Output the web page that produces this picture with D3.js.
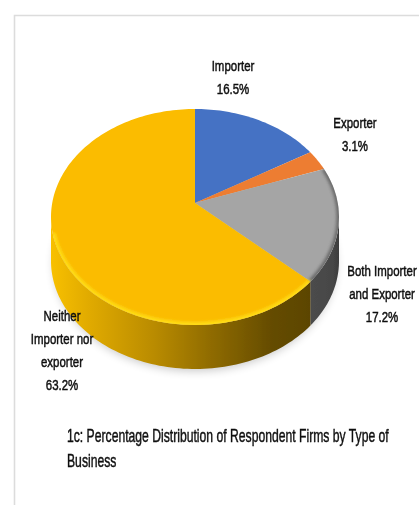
<!DOCTYPE html>
<html><head><meta charset="utf-8">
<style>html,body{margin:0;padding:0;background:#fff}svg{display:block}</style>
<script src="https://cdn.jsdelivr.net/npm/d3@7"></script></head>
<body><svg id="c" width="419" height="505"></svg>
<script>
const categories=["Importer","Exporter","Both Importer and Exporter","Neither Importer nor exporter"];
const values=[16.5,3.1,17.2,63.2];
const colors=["#4472c4","#ed7d31","#a5a5a5","#fbbc00"];
const labelLines=[["Importer","16.5%"],["Exporter","3.1%"],["Both Importer","and Exporter","17.2%"],["Neither","Importer nor","exporter","63.2%"]];
const titleLines=["1c: Percentage Distribution of Respondent Firms by Type of","Business"];
const W=419,H=505,cx=195,cy=217,rx=144,ry=108,depth=44,k=-0.13;
const svg=d3.select("#c");
const defs=svg.append("defs");
defs.append("filter").attr("id","b").attr("x","-20%").attr("y","-20%").attr("width","140%").attr("height","140%").append("feGaussianBlur").attr("stdDeviation",5);
defs.append("filter").attr("id","soft").attr("x","-5%").attr("y","-5%").attr("width","110%").attr("height","110%").append("feGaussianBlur").attr("stdDeviation",0.45);
defs.append("filter").attr("id","bev").attr("x","-10%").attr("y","-10%").attr("width","120%").attr("height","120%").append("feGaussianBlur").attr("stdDeviation",1.6);
const sy=defs.append("linearGradient").attr("id","sideY").attr("gradientUnits","userSpaceOnUse").attr("x1",cx-rx).attr("x2",310).attr("y1",0).attr("y2",0);
[[0,"#f8c000"],[.15,"#e0aa00"],[.4,"#b98b00"],[.62,"#8f6b00"],[.85,"#654c00"],[1,"#5c4500"]].forEach(s=>sy.append("stop").attr("offset",s[0]).attr("stop-color",s[1]));
const sg=defs.append("linearGradient").attr("id","sideG").attr("gradientUnits","userSpaceOnUse").attr("x1",310).attr("x2",cx+rx).attr("y1",0).attr("y2",0);
[[0,"#4c4c4c"],[.8,"#464646"],[1,"#3c3c3c"]].forEach(s=>sg.append("stop").attr("offset",s[0]).attr("stop-color",s[1]));
const sideFill=[null,null,"url(#sideG)","url(#sideY)"];
const bevelCol=[null,null,"#5c5c5c","#ffe21a"];

function proj(a,r=1){const u=r*Math.sin(a),v=-r*Math.cos(a),d=1+k*v;
  return [cx+rx*Math.sqrt(1-k*k)*u/d, cy+ry*(v+k)/d];}
const arcs=d3.pie().sort(null).value(d=>d)(values);
const line=d3.line();
function samples(a0,a1){const n=Math.max(2,Math.ceil((a1-a0)*40));return d3.range(n+1).map(i=>a0+(a1-a0)*i/n);}
function visible(a){return proj(a)[1]>=cy-0.5;}

svg.append("ellipse").attr("cx",cx).attr("cy",cy+depth+3).attr("rx",rx-3).attr("ry",ry-1).attr("fill","#000").attr("opacity",.22).attr("filter","url(#b)");

const chart=svg.append("g").attr("filter","url(#soft)");
arcs.forEach((d,i)=>{ if(!sideFill[i])return;
  const pts=samples(d.startAngle,d.endAngle).filter(visible).map(a=>proj(a));
  if(pts.length<2)return;
  const poly=pts.concat(pts.slice().reverse().map(p=>[p[0],p[1]+depth]));
  chart.append("path").attr("d",line(poly)+"Z").attr("fill",sideFill[i]);
});
arcs.forEach((d,i)=>{
  const pts=[proj(0,0)].concat(samples(d.startAngle,d.endAngle).map(a=>proj(a)));
  chart.append("path").attr("d",line(pts)+"Z").attr("fill",colors[i]);
});
defs.append("clipPath").attr("id","topClip").append("ellipse").attr("cx",cx).attr("cy",cy).attr("rx",rx).attr("ry",ry);
const bevel=chart.append("g").attr("clip-path","url(#topClip)");
arcs.forEach((d,i)=>{ if(!bevelCol[i])return;
  const as=samples(d.startAngle,d.endAngle).filter(a=>i===2||proj(a)[1]>=cy+14);
  bevel.append("path").attr("d",line(as.map(a=>proj(a)))).attr("fill","none").attr("stroke",bevelCol[i]).attr("stroke-width",i===2?5:6).attr("opacity",i===2?.8:.85).attr("filter","url(#bev)");
});
svg.append("path").attr("d",`M14.5 ${H}V15.5H${W}`).attr("fill","none").attr("stroke","#dcdcdc").attr("stroke-width",1.6);

const labelPos=[[233,66],[355,123],[382,271],[62,316]];
const lh=23, sxL=0.74, sxT=0.696;
const txt=svg.append("g").attr("filter","url(#soft)").attr("font-family","'Liberation Sans',sans-serif").attr("fill","#111");
labelLines.forEach((ls,i)=>ls.forEach((s,j)=>{
  txt.append("text").attr("transform",`translate(${labelPos[i][0]},${labelPos[i][1]+j*lh+4.5}) scale(${sxL},1)`).attr("text-anchor","middle").attr("font-size",15.5).attr("stroke","#111").attr("stroke-width",.5).text(s);
}));
titleLines.forEach((s,j)=>{
  txt.append("text").attr("transform",`translate(67,${[442,467][j]}) scale(${sxT},1)`).attr("font-size",17.5).attr("stroke","#111").attr("stroke-width",.45).text(s);
});
</script></body></html>
